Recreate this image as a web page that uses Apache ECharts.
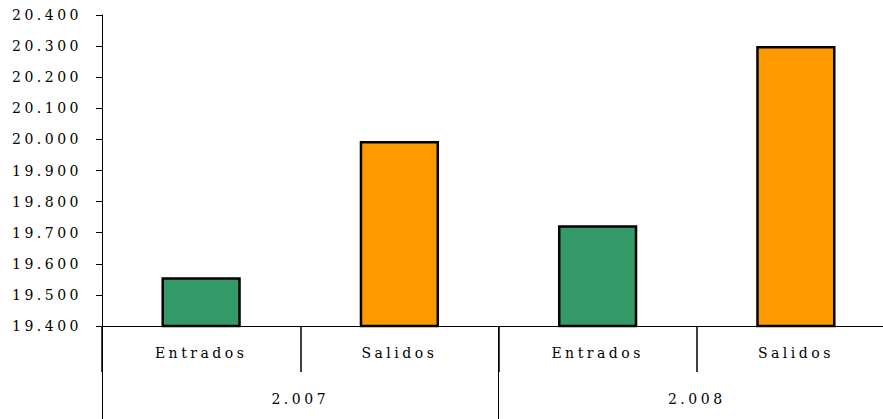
<!DOCTYPE html>
<html>
<head>
<meta charset="utf-8">
<script src="https://cdn.jsdelivr.net/npm/echarts@6/dist/echarts.min.js"></script>
<style>
html,body{margin:0;padding:0;background:#fff;overflow:hidden;}
#chart{width:883px;height:419px;}
#chart text{letter-spacing:3.5px;}
</style>
</head>
<body>
<div id="chart"></div>
<script>
const categories = ['Entrados', 'Salidos', 'Entrados', 'Salidos'];
const years = ['2.007', '2.008'];
const values = [19557, 19995, 19724, 20300];
const barColors = ['#339966', '#FF9900', '#339966', '#FF9900'];
const yMin = 19400, yMax = 20400, yStep = 100;

function fmt(v) {
  const s = String(Math.round(v));
  return s.replace(/\B(?=(\d{3})+(?!\d))/g, '.');
}

const chart = echarts.init(document.getElementById('chart'), null, {renderer: 'svg'});
const font = {fontFamily: 'DejaVu Serif', fontSize: 14, color: '#000'};
chart.setOption({
  animation: false,
  grid: {left: 102, top: 15, height: 311, width: 793, containLabel: false, outerBoundsMode: 'none'},
  xAxis: [{
    type: 'category',
    data: categories,
    position: 'bottom',
    axisLine: {show: true, lineStyle: {color: '#000', width: 1}},
    axisTick: {show: true, length: 46, interval: 0, lineStyle: {color: '#000', width: 1.5}},
    axisLabel: Object.assign({margin: 20, interval: 0}, font),
    splitLine: {show: false}
  }, {
    type: 'category',
    data: years,
    position: 'bottom',
    offset: 0,
    axisLine: {show: false},
    axisTick: {show: true, length: 93, interval: 0, lineStyle: {color: '#000', width: 1}},
    axisLabel: Object.assign({margin: 66, interval: 0}, font),
    splitLine: {show: false}
  }],
  yAxis: {
    type: 'value',
    min: yMin, max: yMax, interval: yStep,
    axisLine: {show: true, lineStyle: {color: '#000', width: 1}},
    axisTick: {show: true, length: 6, lineStyle: {color: '#000'}},
    axisLabel: Object.assign({margin: 20, formatter: fmt}, font),
    splitLine: {show: false}
  },
  series: [{
    type: 'bar',
    xAxisIndex: 0,
    barWidth: '40%',
    data: values.map((v, i) => ({value: v, itemStyle: {color: barColors[i]}})),
    itemStyle: {borderColor: '#000', borderWidth: 2.5}
  }]
});
</script>
</body>
</html>
